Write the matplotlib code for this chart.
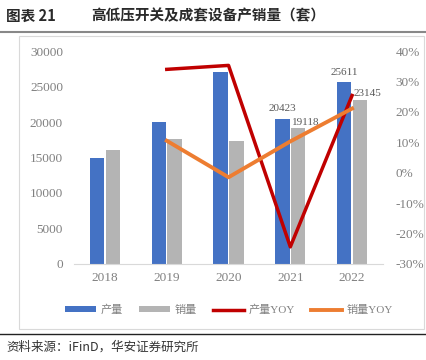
import matplotlib
matplotlib.use("Agg")
import matplotlib.pyplot as plt
import numpy as np
from matplotlib.lines import Line2D
from matplotlib.patches import Rectangle

years = ["2018", "2019", "2020", "2021", "2022"]
production = [14900, 20000, 27000, 20423, 25611]
sales = [16000, 17600, 17330, 19118, 23145]
prod_yoy = [None, 34.0, 35.3, -24.4, 25.4]
sales_yoy = [None, 10.5, -1.5, 10.3, 21.1]
labeled_idx = [3, 4]

BLUE = "#4472C4"
GRAY = "#B4B4B4"
RED = "#C00000"
ORANGE = "#ED7D31"
TXT = "#808080"
SERIF = ["Liberation Serif", "Noto Sans CJK SC"]
CJK = ["Noto Sans CJK SC", "DejaVu Sans"]

fig = plt.figure(figsize=(4.26, 3.6), dpi=100)

# title
fig.text(0.015, 0.957, "图表 21", family=CJK, fontsize=10.5, fontweight="bold", color="#2a2a2a", va="center")
fig.text(0.215, 0.957, "高低压开关及成套设备产销量（套）", family=CJK, fontsize=10.5, fontweight="bold", color="#2a2a2a", va="center")
fig.add_artist(Line2D([0.0, 1.0], [0.912, 0.912], color="#888888", lw=1.5))
# chart frame
fig.add_artist(Rectangle((0.045, 0.085), 0.95, 0.815, fill=False, edgecolor="#D9D9D9", lw=0.8))
# source
fig.add_artist(Line2D([0.0, 1.0], [0.072, 0.072], color="#222222", lw=1.0))
fig.text(0.015, 0.037, "资料来源：iFinD，华安证券研究所", family=CJK, fontsize=9, color="#333333", va="center")

ax = fig.add_axes([0.174, 0.267, 0.725, 0.591])
x = np.arange(len(years))
w = 0.235
ax.bar(x - w / 2 - 0.01, production, width=w, color=BLUE, label="产量", zorder=2)
ax.bar(x + w / 2 + 0.01, sales, width=w, color=GRAY, label="销量", zorder=2)
ax.set_ylim(0, 30000)
ax.set_yticks(np.arange(0, 30001, 5000))
ax.set_xlim(-0.5, 4.5)
ax.set_xticks(x)
ax.set_xticklabels(years)
for s in ["top", "right", "left"]:
    ax.spines[s].set_visible(False)
ax.spines["bottom"].set_color("#D9D9D9")
ax.tick_params(axis="both", length=0, colors=TXT, labelsize=9.5, pad=6)
ax.tick_params(axis="y", pad=8)
for lab in ax.get_xticklabels() + ax.get_yticklabels():
    lab.set_family(SERIF)

for i in labeled_idx:
    ax.text(x[i] - w / 2 - 0.01, production[i] + 800, str(production[i]), ha="center", va="bottom",
            fontsize=8, color="#595959", family=SERIF)
    ax.text(x[i] + w / 2 + 0.13, sales[i] + 250, str(sales[i]), ha="center", va="bottom",
            fontsize=8, color="#595959", family=SERIF)

ax2 = ax.twinx()
xs = [xi for xi, v in zip(x, prod_yoy) if v is not None]
ax2.plot(xs, [v for v in prod_yoy if v is not None], color=RED, lw=2.5, label="产量YOY", zorder=3)
ax2.plot(xs, [v for v in sales_yoy if v is not None], color=ORANGE, lw=2.8, label="销量YOY", zorder=3)
ax2.set_ylim(-30, 40)
ax2.set_yticks(np.arange(-30, 41, 10))
ax2.set_yticklabels([f"{v}%" for v in range(-30, 41, 10)])
for s in ["top", "right", "left", "bottom"]:
    ax2.spines[s].set_visible(False)
ax2.tick_params(axis="y", length=0, colors=TXT, labelsize=9.5, pad=9)
for lab in ax2.get_yticklabels():
    lab.set_family(SERIF)

h1, l1 = ax.get_legend_handles_labels()
h2, l2 = ax2.get_legend_handles_labels()
leg = fig.legend(h1 + h2, l1 + l2, loc="center", bbox_to_anchor=(0.537, 0.139), ncol=4, frameon=False,
                 prop={"family": SERIF, "size": 8}, handlelength=2.8, handleheight=0.5,
                 columnspacing=1.45, handletextpad=0.4)
for t in leg.get_texts():
    t.set_color(TXT)

fig.savefig("out.png", dpi=100)
